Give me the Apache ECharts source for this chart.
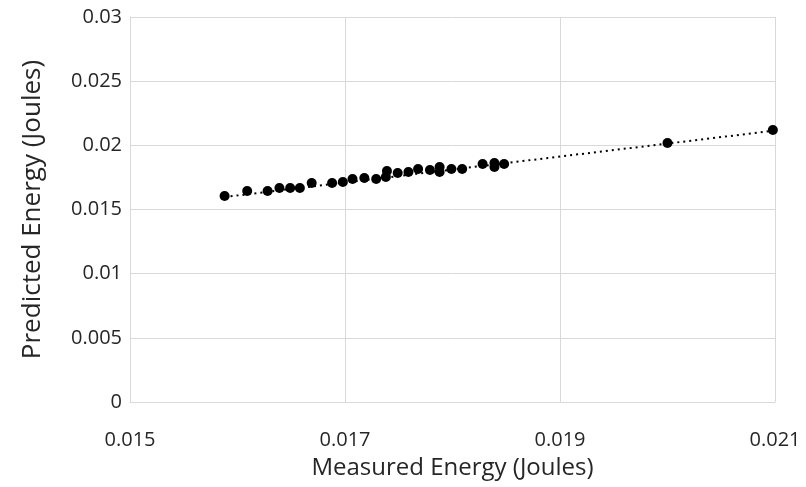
<!DOCTYPE html>
<html>
<head>
<meta charset="utf-8">
<script src="https://cdn.jsdelivr.net/npm/echarts@6/dist/echarts.min.js"></script>
<style>html,body{margin:0;padding:0;background:#fff}#c{width:806px;height:487px}</style>
</head>
<body>
<div id="c"></div>
<script>
const measured = [0.01588,0.01609,0.01628,0.01639,0.01649,0.01658,0.01669,0.01688,0.01698,0.01707,0.01718,0.01729,0.01738,0.01739,0.01749,0.01759,0.01768,0.01779,0.01788,0.01788,0.01799,0.01809,0.01828,0.01839,0.01839,0.01848,0.02000,0.02098];
const predicted = [0.01605,0.01644,0.01644,0.01668,0.01668,0.01668,0.01707,0.01707,0.01714,0.01738,0.01746,0.01738,0.01753,0.01800,0.01785,0.01792,0.01816,0.01808,0.01831,0.01792,0.01816,0.01816,0.01855,0.01862,0.01831,0.01855,0.02018,0.02120];
const trendX = [0.01588, 0.02098];
const trendY = [0.01597, 0.02113];
const xTicks = ['0.015','0.017','0.019','0.021'];
const yTicks = ['0','0.005','0.01','0.015','0.02','0.025','0.03'];

const font = "'Open Sans', sans-serif";
const chart = echarts.init(document.getElementById('c'), null, {renderer:'canvas'});
chart.setOption({
  animation:false,
  grid:{left:130,right:31,top:17,bottom:85,containLabel:false},
  xAxis:{
    type:'value',min:0.015,max:0.021,interval:0.002,
    name:'Measured Energy (Joules)',nameLocation:'middle',nameGap:54,
    nameTextStyle:{fontFamily:font,fontSize:24,color:'#262626'},
    axisLine:{show:true,lineStyle:{color:'#d9d9d9',width:1}},
    axisTick:{show:false},
    splitLine:{show:true,lineStyle:{color:'#d9d9d9',width:1}},
    axisLabel:{fontFamily:font,fontSize:20,color:'#262626',margin:28,
      formatter:function(v){const i=Math.round((v-0.015)/0.002);return xTicks[i]!==undefined?xTicks[i]:'';}}
  },
  yAxis:{
    type:'value',min:0,max:0.03,interval:0.005,
    name:'Predicted Energy (Joules)',nameLocation:'middle',nameGap:84,nameRotate:90,
    nameTextStyle:{fontFamily:font,fontSize:26,color:'#262626'},
    axisLine:{show:true,lineStyle:{color:'#d9d9d9',width:1}},
    axisTick:{show:false},
    splitLine:{show:true,lineStyle:{color:'#d9d9d9',width:1}},
    axisLabel:{fontFamily:font,fontSize:20,color:'#262626',margin:8,
      formatter:function(v){const i=Math.round(v/0.005);return yTicks[i]!==undefined?yTicks[i]:'';}}
  },
  series:[
    {type:'line',data:trendX.map((x,i)=>[x,trendY[i]]),symbol:'none',
     lineStyle:{color:'#000',width:2,type:[2,4]},z:2,silent:true},
    {type:'scatter',data:measured.map((x,i)=>[x,predicted[i]]),symbol:'circle',symbolSize:10,
     itemStyle:{color:'#000',opacity:1},z:3}
  ]
});
</script>
</body>
</html>
